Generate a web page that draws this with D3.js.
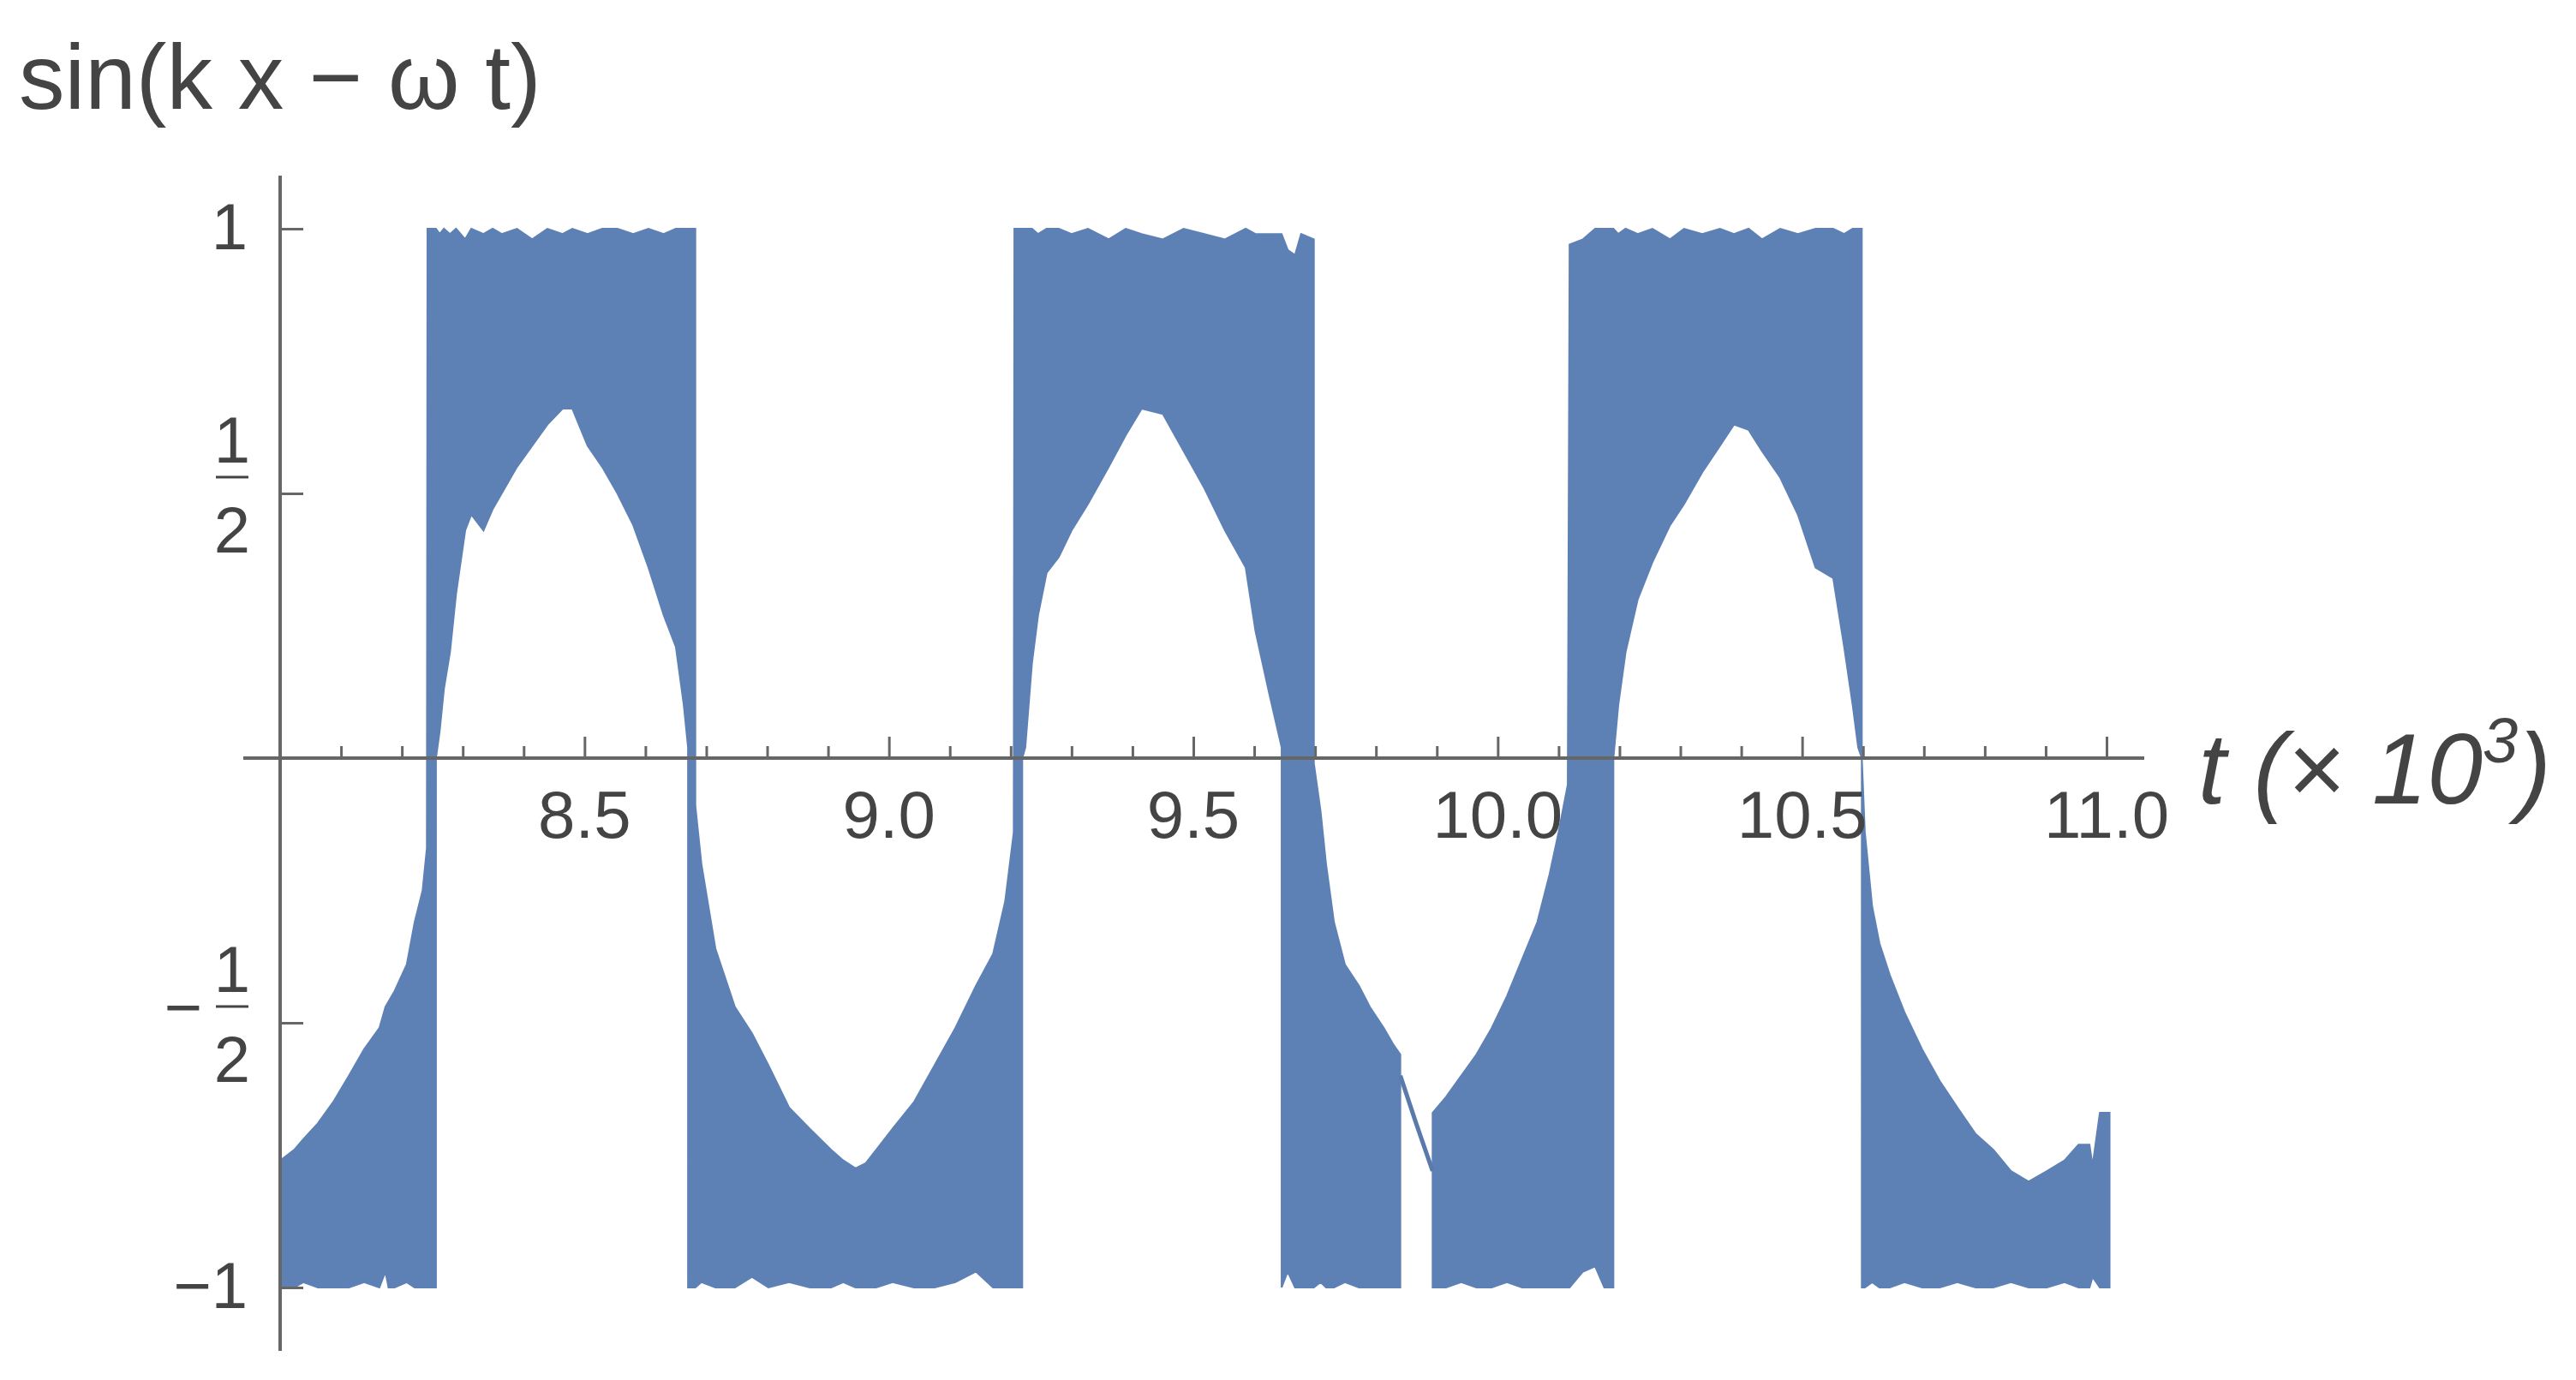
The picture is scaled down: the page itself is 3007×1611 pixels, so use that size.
<!DOCTYPE html>
<html>
<head>
<meta charset="utf-8">
<script src="https://cdn.jsdelivr.net/npm/d3@7"></script>
<style>
html,body{margin:0;padding:0;background:#fff;}
svg{display:block;}
</style>
</head>
<body>
<svg id="chart" width="3007" height="1611"></svg>
<script>
// ---- data (t in units of 10^3; upper / lower envelope of the densely oscillating signal) ----
const tValues = [
  // first negative lobe
  8.000, 8.023, 8.038, 8.062, 8.087, 8.113, 8.138, 8.163, 8.173, 8.178, 8.188, 8.208, 8.221, 8.234, 8.241,
  // first band with arch
  8.242, 8.256, 8.256, 8.262, 8.269, 8.279, 8.289, 8.304, 8.314, 8.334, 8.349, 8.364, 8.389, 8.414, 8.439,
  8.464, 8.480, 8.505, 8.529, 8.554, 8.580, 8.605, 8.630, 8.650, 8.663, 8.670,
  // second lobe (below axis)
  8.670, 8.682, 8.682, 8.692, 8.715, 8.747, 8.775, 8.802, 8.836, 8.870, 8.905, 8.925, 8.945, 8.962, 8.979,
  9.006, 9.041, 9.075, 9.109, 9.143, 9.171, 9.191, 9.205,
  // second band with arch
  9.206, 9.219, 9.219, 9.224, 9.235, 9.245, 9.259, 9.279, 9.300, 9.327, 9.361, 9.389, 9.415, 9.450, 9.484,
  9.518, 9.552, 9.586, 9.602, 9.625, 9.645,
  9.645, 9.655, 9.667, 9.677, 9.698, 9.698, 9.709, 9.718, 9.731, 9.749, 9.772, 9.790, 9.813, 9.828, 9.840,
  // gap
  9.866,
  // rising lobe and third band
  9.893, 9.915, 9.940, 9.965, 9.990, 10.015, 10.040, 10.065, 10.085, 10.100, 10.115, 10.118, 10.140, 10.160, 10.175, 10.190,
  10.190, 10.198, 10.210, 10.230, 10.254, 10.283, 10.306, 10.336, 10.365, 10.388, 10.412, 10.434, 10.464, 10.493, 10.522,
  10.551, 10.569, 10.583, 10.592, 10.598,
  // last lobe
  10.598, 10.603, 10.615, 10.627, 10.644, 10.668, 10.697, 10.726, 10.755, 10.785, 10.814, 10.843, 10.872, 10.902, 10.931,
  10.954, 10.972, 10.977, 10.989, 11.005
];
const upperValues = [
  -0.76, -0.74, -0.72, -0.69, -0.65, -0.60, -0.55, -0.51, -0.47, -0.46, -0.44, -0.39, -0.31, -0.25, -0.17,
  1.00, 1.00, 1.00, 0.99, 1.00, 0.99, 1.00, 0.98, 1.00, 0.99, 1.00, 0.99, 1.00, 0.98, 1.00,
  0.99, 1.00, 0.99, 1.00, 1.00, 0.99, 1.00, 0.99, 1.00, 1.00, 1.00,
  1.00, 1.00, -0.09, -0.20, -0.36, -0.47, -0.52, -0.58, -0.66, -0.70, -0.74, -0.76, -0.775, -0.765, -0.74,
  -0.70, -0.65, -0.58, -0.51, -0.43, -0.37, -0.27, -0.14,
  1.00, 1.00, 1.00, 1.00, 1.00, 0.99, 1.00, 1.00, 0.99, 1.00, 0.98, 1.00, 0.99, 0.98, 1.00,
  0.99, 0.98, 1.00, 0.99, 0.99, 0.99,
  0.99, 0.96, 0.95, 0.99, 0.98, -0.01, -0.10, -0.20, -0.31, -0.39, -0.43, -0.47, -0.51, -0.54, -0.56,
  null,
  -0.67, -0.64, -0.60, -0.56, -0.51, -0.45, -0.38, -0.31, -0.22, -0.14, -0.05, 0.97, 0.98, 1.00, 1.00, 1.00,
  1.00, 0.99, 1.00, 0.99, 1.00, 0.98, 1.00, 0.99, 1.00, 0.99, 1.00, 0.98, 1.00, 0.99, 1.00,
  1.00, 0.99, 1.00, 1.00, 1.00,
  0.00, -0.14, -0.28, -0.35, -0.41, -0.48, -0.55, -0.61, -0.66, -0.71, -0.74, -0.78, -0.80, -0.78, -0.76,
  -0.73, -0.73, -0.77, -0.67, -0.67
];
const lowerValues = [
  -1.00, -1.00, -0.99, -1.00, -1.00, -1.00, -0.99, -1.00, -0.97, -1.00, -1.00, -0.99, -1.00, -1.00, -1.00,
  -1.00, -1.00, 0.00, 0.05, 0.13, 0.20, 0.31, 0.43, 0.46, 0.43, 0.47, 0.50, 0.55, 0.59, 0.63,
  0.66, 0.66, 0.59, 0.55, 0.50, 0.44, 0.36, 0.27, 0.21, 0.10, 0.02,
  -1.00, -1.00, -1.00, -0.99, -1.00, -1.00, -0.98, -1.00, -0.99, -1.00, -1.00, -0.99, -1.00, -1.00, -1.00,
  -0.99, -1.00, -1.00, -0.99, -0.97, -1.00, -1.00, -1.00,
  -1.00, -1.00, 0.00, 0.02, 0.18, 0.27, 0.35, 0.38, 0.43, 0.48, 0.55, 0.61, 0.66, 0.65, 0.58,
  0.51, 0.43, 0.36, 0.24, 0.12, 0.02,
  -1.00, -0.97, -1.00, -1.00, -1.00, -1.00, -0.99, -1.00, -1.00, -0.99, -1.00, -1.00, -1.00, -1.00, -1.00,
  null,
  -1.00, -1.00, -0.99, -1.00, -1.00, -0.99, -1.00, -1.00, -1.00, -1.00, -1.00, -1.00, -0.97, -0.96, -1.00, -1.00,
  0.00, 0.10, 0.20, 0.30, 0.37, 0.44, 0.48, 0.54, 0.59, 0.63, 0.62, 0.58, 0.53, 0.46, 0.36,
  0.34, 0.21, 0.10, 0.02, 0.00,
  -1.00, -1.00, -0.99, -1.00, -1.00, -0.99, -1.00, -1.00, -0.99, -1.00, -1.00, -0.99, -1.00, -1.00, -0.99,
  -1.00, -1.00, -0.98, -1.00, -1.00
];
// thin single-curve piece crossing the gap near t = 9.87
const lineT = [9.840, 9.866, 9.893];
const lineV = [-0.60, -0.69, -0.78];

const xMajorTicks = [8.5, 9.0, 9.5, 10.0, 10.5, 11.0];
const xTickLabels = ["8.5", "9.0", "9.5", "10.0", "10.5", "11.0"];
const xMinorTicks = [8.1, 8.2, 8.3, 8.4, 8.6, 8.7, 8.8, 8.9, 9.1, 9.2, 9.3, 9.4, 9.6, 9.7, 9.8, 9.9,
                     10.1, 10.2, 10.3, 10.4, 10.6, 10.7, 10.8, 10.9];
const yTicks = [1, 0.5, -0.5, -1];
const yTickSigns = ["", "", "\u2212", "\u2212"];
const yTickNumerators = ["1", "1", "1", "1"];
const yTickDenominators = [null, "2", "2", null];

const yAxisTitle = "sin(k x \u2212 \u03C9 t)";
const xAxisTitle = "t (\u00D7 10";
const xAxisTitleExp = "3";

// ---- drawing ----
const svg = d3.select("#chart");
svg.append("rect").attr("width", 3007).attr("height", 1611).attr("fill", "#fff");

const x = d3.scaleLinear().domain([8.0, 11.0]).range([327, 2459]);
const y = d3.scaleLinear().domain([-1, 1]).range([1503, 267]);

const fillColor = "#5e81b5";
const axisColor = "#666666";
const textColor = "#444444";
const font = "'Liberation Sans', Arial, sans-serif";

const data = tValues.map((t, i) => ({t, hi: upperValues[i], lo: lowerValues[i]}));

const area = d3.area()
  .defined(d => d.hi !== null && d.lo !== null)
  .x(d => x(d.t))
  .y0(d => y(d.lo))
  .y1(d => y(d.hi))
  .curve(d3.curveLinear);

svg.append("path")
  .datum(data)
  .attr("d", area)
  .attr("fill", fillColor)
  .attr("stroke", fillColor)
  .attr("stroke-width", 2)
  .attr("stroke-linejoin", "miter");

const line = d3.line().x(d => x(d.t)).y(d => y(d.v)).curve(d3.curveMonotoneX);
svg.append("path")
  .datum(lineT.map((t, i) => ({t, v: lineV[i]})))
  .attr("d", line)
  .attr("fill", "none")
  .attr("stroke", "#5a7aab")
  .attr("stroke-width", 5);

// x axis (line at y=0, ticks pointing up)
const y0 = y(0);
svg.append("line")
  .attr("x1", 284).attr("x2", 2503)
  .attr("y1", y0).attr("y2", y0)
  .attr("stroke", axisColor).attr("stroke-width", 4);

const xMinorAxis = d3.axisTop(x).tickValues(xMinorTicks).tickSize(14).tickSizeOuter(0).tickFormat("");
const gMinor = svg.append("g").attr("transform", `translate(0,${y0})`).call(xMinorAxis);
const xMajorAxis = d3.axisTop(x).tickValues(xMajorTicks).tickSize(25).tickSizeOuter(0).tickFormat("");
const gMajor = svg.append("g").attr("transform", `translate(0,${y0})`).call(xMajorAxis);
[gMinor, gMajor].forEach(g => {
  g.select(".domain").remove();
  g.selectAll(".tick line").attr("stroke", axisColor).attr("stroke-width", 3);
});

svg.append("g").selectAll("text")
  .data(xMajorTicks)
  .join("text")
  .attr("x", d => x(d))
  .attr("y", 978)
  .attr("text-anchor", "middle")
  .attr("font-family", font)
  .attr("font-size", 78)
  .attr("fill", textColor)
  .text((d, i) => xTickLabels[i]);

// y axis
const x0 = x(8.0);
svg.append("line")
  .attr("x1", x0).attr("x2", x0)
  .attr("y1", 205).attr("y2", 1577)
  .attr("stroke", axisColor).attr("stroke-width", 4);

const yAxis = d3.axisRight(y).tickValues(yTicks).tickSize(27).tickSizeOuter(0).tickFormat("");
const gY = svg.append("g").attr("transform", `translate(${x0},0)`).call(yAxis);
gY.select(".domain").remove();
gY.selectAll(".tick line").attr("stroke", axisColor).attr("stroke-width", 3);

// y tick labels (fractions)
const labelRight = 289;
yTicks.forEach((v, i) => {
  const yy = y(v);
  const g = svg.append("g").attr("fill", textColor).attr("font-family", font).attr("font-size", 76);
  if (yTickDenominators[i] === null) {
    g.append("text")
      .attr("x", labelRight).attr("y", yy + 24)
      .attr("text-anchor", "end")
      .text(yTickSigns[i] + yTickNumerators[i]);
  } else {
    const cx = 271;
    const barY = yy - 19;
    g.append("text").attr("x", cx).attr("y", barY - 17).attr("text-anchor", "middle").text(yTickNumerators[i]);
    g.append("line").attr("x1", 252).attr("x2", 290).attr("y1", barY).attr("y2", barY)
      .attr("stroke", textColor).attr("stroke-width", 3);
    g.append("text").attr("x", cx).attr("y", barY + 88).attr("text-anchor", "middle").text(yTickDenominators[i]);
    if (yTickSigns[i]) {
      g.append("text").attr("x", 236).attr("y", barY + 27).attr("text-anchor", "end").text(yTickSigns[i]);
    }
  }
});

// axis titles
svg.append("text")
  .attr("x", 22).attr("y", 127)
  .attr("font-family", font)
  .attr("font-size", 107)
  .attr("fill", textColor)
  .text(yAxisTitle);

const xt = svg.append("text")
  .attr("x", 2566).attr("y", 938)
  .attr("font-family", font)
  .attr("font-style", "italic")
  .attr("font-size", 116)
  .attr("fill", textColor);
xt.append("tspan").text(xAxisTitle);
xt.append("tspan").attr("dy", -48).attr("font-size", 74).text(xAxisTitleExp);
xt.append("tspan").attr("dy", 48).text(")");
</script>
</body>
</html>
